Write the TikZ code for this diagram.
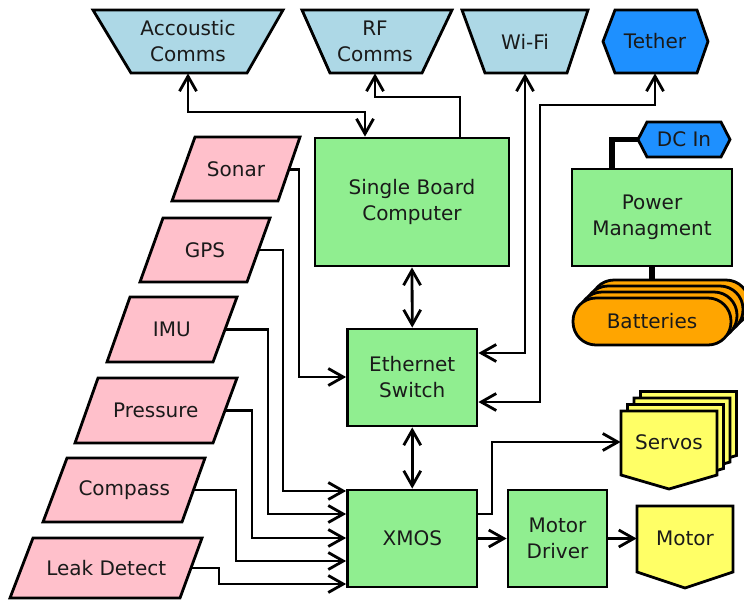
\documentclass[tikz,border=0pt]{standalone}
\usepackage{fontspec}
\setmainfont{DejaVu Sans}
\usetikzlibrary{arrows.meta,calc}
\definecolor{lblue}{HTML}{ADD8E6}
\definecolor{dblue}{HTML}{1E90FF}
\definecolor{lpink}{HTML}{FFC0CB}
\definecolor{lgreen}{HTML}{90EE90}
\definecolor{lorange}{HTML}{FFA500}
\definecolor{lyellow}{HTML}{FFFF66}
\definecolor{txtc}{HTML}{1A1A1A}
\begin{document}
\begin{tikzpicture}[x=0.5pt,y=-0.5pt,
  shp/.style={draw=black, line width=1.4pt, line join=miter},
  txt/.style={inner sep=0pt, font=\fontsize{10}{13}\selectfont, text=txtc, align=center},
  box/.style={shp, txt, fill=lgreen},
  conn/.style={line width=1.4pt, line join=miter},
  tip/.tip={Straight Barb[length=7.5pt,width=8.5pt]},
  power line/.style={line width=2.6pt, line join=miter}
]
\useasboundingbox[fill=white] (0,0) rectangle (744,601);

% ---- top row ----
\filldraw[shp, fill=lblue] (93,10)--(283,10)--(247,73)--(131,73)--cycle;
\node[txt, minimum width=95pt, minimum height=31.5pt] (acc) at (188,41.5) {Accoustic\\Comms};
\filldraw[shp, fill=lblue] (302,10)--(452,10)--(422,73)--(330,73)--cycle;
\node[txt, minimum width=75pt, minimum height=31.5pt] (rf) at (375,41.5) {RF\\Comms};
\filldraw[shp, fill=lblue] (462,10)--(588,10)--(567,73)--(485,73)--cycle;
\node[txt, minimum width=63pt, minimum height=31.5pt] (wifi) at (525,41.5) {Wi-Fi};
\filldraw[shp, fill=dblue] (603,41.5)--(615,10)--(697,10)--(708,41.5)--(697,73)--(615,73)--cycle;
\node[txt, minimum width=52pt, minimum height=31.5pt] (tether) at (655,41.5) {Tether};

% ---- central boxes ----
\node[box, minimum width=97pt, minimum height=64pt] (sbc) at (412,202) {Single Board\\Computer};
\node[box, minimum width=64.75pt, minimum height=48.5pt] (switch) at (412.25,377.5) {Ethernet\\Switch};
\node[box, minimum width=64.75pt, minimum height=48.5pt] (xmos) at (412.25,538.5) {XMOS};
\node[box, minimum width=49.5pt, minimum height=48.5pt] (mdrv) at (557.5,538.5) {Motor\\Driver};

% ---- power ----
\coordinate (p1) at (612,139.5);
\coordinate (bt) at (652,282);
\draw[power line] (652,266) -- (bt);
\node[box, minimum width=80pt, minimum height=48.5pt] (power) at (652,217.5) {Power\\Managment};
\filldraw[shp, fill=dblue] (638,139.5)--(647,122)--(721,122)--(730,139.5)--(721,157)--(647,157)--cycle;
\node[txt, minimum width=46pt, minimum height=17.5pt] (dcin) at (684,139.5) {DC In};
\draw[power line] (power.north -| p1) |- (dcin.west);
\foreach \k in {3,2,1,0}
  \filldraw[shp, fill=lorange, rounded corners=11.5pt] (573+6*\k,298-6*\k) rectangle (731+6*\k,345-6*\k);
\node[txt] (batt) at (652,321) {Batteries};

% ---- outputs ----
\foreach \k in {3,2,1,0}
  \filldraw[shp, fill=lyellow] (621+6.5*\k,411-6.5*\k)--(717+6.5*\k,411-6.5*\k)--(717+6.5*\k,475-6.5*\k)--(669+6.5*\k,489-6.5*\k)--(621+6.5*\k,475-6.5*\k)--cycle;
\node[txt, minimum width=48pt, minimum height=31pt] (servos) at (669,442) {Servos};
\filldraw[shp, fill=lyellow] (637,506)--(733,506)--(733,572)--(685,588)--(637,572)--cycle;
\node[txt, minimum width=48pt, minimum height=32pt] (motor) at (685,538) {Motor};

% ---- sensors ----
\filldraw[shp, fill=lpink] (195,137)--(300,137)--(278,201)--(172,201)--cycle;
\node[txt, minimum width=52.75pt, minimum height=32pt] (sonar) at (236,169.5) {Sonar};
\filldraw[shp, fill=lpink] (163,218)--(270,218)--(247,282)--(140,282)--cycle;
\node[txt, minimum width=53.5pt, minimum height=32pt] (gps) at (205,250) {GPS};
\filldraw[shp, fill=lpink] (130,297)--(237,297)--(213,362)--(107,362)--cycle;
\node[txt, minimum width=53.25pt, minimum height=32pt] (imu) at (171.75,329.5) {IMU};
\filldraw[shp, fill=lpink] (98,378)--(237,378)--(213,443)--(75,443)--cycle;
\node[txt, minimum width=69.25pt, minimum height=32pt] (pressure) at (155.75,410.5) {Pressure};
\filldraw[shp, fill=lpink] (67,458)--(205,458)--(182,522)--(43,522)--cycle;
\node[txt, minimum width=69.25pt, minimum height=32pt] (compass) at (124.25,490) {Compass};
\filldraw[shp, fill=lpink] (33,538)--(202,538)--(180,598)--(10,598)--cycle;
\node[txt, minimum width=84.75pt, minimum height=30pt] (leak) at (106.25,568) {Leak Detect};

% ---- connectors ----
\coordinate (a1) at (365,112);
\draw[conn, tip-tip] (acc.south) |- (a1) -- (sbc.north -| a1);
\coordinate (r1) at (460,97);
\draw[conn, -tip] (sbc.north -| r1) -- (r1) -| (rf.south);
\coordinate (w1) at (525,353);
\draw[conn, tip-tip] (wifi.south) -- (w1) -- (switch.east |- w1);
\coordinate (t1) at (540,105);
\coordinate (t2) at (540,402);
\draw[conn, tip-tip] (tether.south) |- (t1) -- (t2) -- (switch.east |- t2);
\draw[conn, tip-tip] (sbc.south) -- (switch.north);
\draw[conn, tip-tip] (switch.south) -- (xmos.north);

\coordinate (so1) at (299,377);
\draw[conn, -tip] (sonar.east) -| (so1) -- (switch.west |- so1);
\coordinate (g1) at (283,491);
\draw[conn, -tip] (gps.east) -| (g1) -- (xmos.west |- g1);
\coordinate (i1) at (268,514);
\draw[conn, -tip] (imu.east) -| (i1) -- (xmos.west |- i1);
\coordinate (pr1) at (252,538);
\draw[conn, -tip] (pressure.east) -| (pr1) -- (xmos.west |- pr1);
\coordinate (c1) at (236,561);
\draw[conn, -tip] (compass.east) -| (c1) -- (xmos.west |- c1);
\coordinate (l1) at (219,584);
\draw[conn, -tip] (leak.east) -| (l1) -- (xmos.west |- l1);

\coordinate (s1) at (492,514);
\draw[conn, -tip] (xmos.east |- s1) -- (s1) |- (servos.west);
\draw[conn, -tip] (xmos.east) -- (mdrv.west);
\draw[conn, -tip] (mdrv.east) -- (mdrv.east -| motor.west);
\end{tikzpicture}
\end{document}
